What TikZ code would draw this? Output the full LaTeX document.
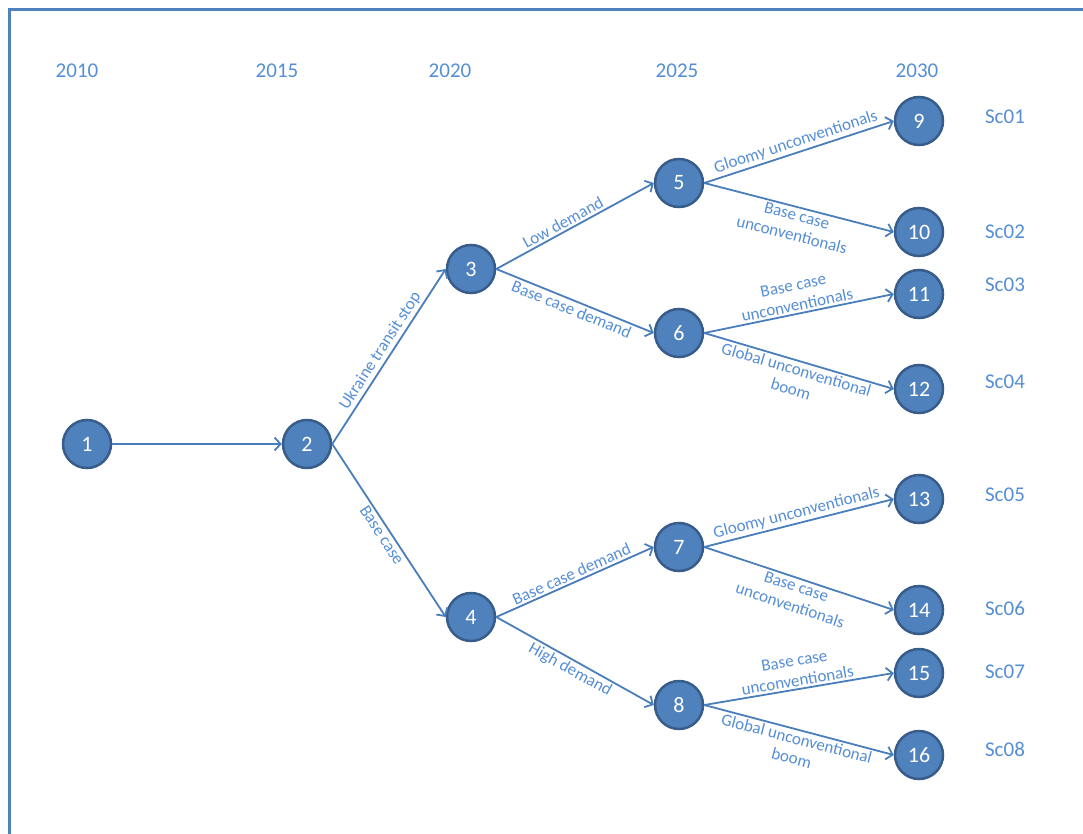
\documentclass[tikz,border=0pt]{standalone}
\usepackage{fontspec}
\setmainfont{Carlito}
\usetikzlibrary{arrows.meta}
\definecolor{mblue}{RGB}{79,129,189}
\definecolor{mdark}{RGB}{56,93,138}
\definecolor{mline}{RGB}{74,126,187}
\definecolor{mtext}{RGB}{85,142,213}

\tikzset{
  event/.style={circle, fill=mblue, draw=mdark, line width=2.5pt, minimum size=48pt,
    inner sep=0pt, text=white, font=\fontsize{22}{24}\selectfont},
  year/.style={text=mtext, font=\fontsize{21}{24}\selectfont},
  branch/.style={draw=mline, line width=1.8pt, -{Straight Barb[length=6pt,width=13pt]}},
  lbl/.style={text=mtext, font=\fontsize{17}{20}\selectfont, sloped, align=center, inner sep=2pt}
}

\begin{document}
\begin{tikzpicture}[x=1pt, y=-1pt]
    \useasboundingbox (0, 0) rectangle (1083, 834);
    \draw [mblue, line width=2.5pt] (9.5, 834) -- (9.5, 9.5) -- (1083, 9.5);

    % years
    \node [year] (y2010) at (77, 71) {2010};
    \node [year] (y2015) at (277, 71) {2015};
    \node [year] (y2020) at (450, 71) {2020};
    \node [year] (y2025) at (677, 71) {2025};
    \node [year] (y2030) at (917, 71) {2030};

    % events
    \node [event] (1) at (87, 444) {1};
    \node [event] (2) at (307, 444) {2};
    \node [event] (3) at (471, 269) {3};
    \node [event] (4) at (471, 617) {4};
    \node [event] (5) at (679, 183) {5};
    \node [event] (6) at (679, 333) {6};
    \node [event] (7) at (679, 547) {7};
    \node [event] (8) at (679, 705) {8};
    \node [event] (9) at (919, 121) {9};
    \node [event] (10) at (919, 232) {10};
    \node [event] (11) at (919, 294) {11};
    \node [event] (12) at (919, 389) {12};
    \node [event] (13) at (919, 499) {13};
    \node [event] (14) at (919, 610) {14};
    \node [event] (15) at (919, 673) {15};
    \node [event] (16) at (919, 755) {16};

    % scenarios
    \node [year] (sc1) at (1005, 117) {Sc01};
    \node [year] (sc2) at (1005, 232) {Sc02};
    \node [year] (sc3) at (1005, 285) {Sc03};
    \node [year] (sc4) at (1005, 382) {Sc04};
    \node [year] (sc5) at (1005, 495) {Sc05};
    \node [year] (sc6) at (1005, 608) {Sc06};
    \node [year] (sc7) at (1005, 672) {Sc07};
    \node [year] (sc8) at (1005, 749) {Sc08};

    \draw [branch] (1.east) -- (2.west);
    \draw [branch] (2.east) -- node [lbl, above] {Ukraine transit stop} (3.west);
    \draw [branch] (2.east) -- node [lbl, below] {Base case} (4.west);

    \draw [branch] (3.east) -- node [lbl, above, pos=0.45] {Low demand} (5.west);
    \draw [branch] (3.east) -- node [lbl, below] {Base case demand} (6.west);
    \draw [branch] (4.east) -- node [lbl, above] {Base case demand} (7.west);
    \draw [branch] (4.east) -- node [lbl, below] {High demand} (8.west);

    \draw [branch] (5.east) -- node [lbl, above] {Gloomy unconventionals} (9.west);
    \draw [branch] (5.east) -- node [lbl, below] {Base case\\unconventionals} (10.west);
    \draw [branch] (6.east) -- node [lbl, above] {Base case\\unconventionals} (11.west);
    \draw [branch] (6.east) -- node [lbl, below] {Global unconventional\\boom} (12.west);
    \draw [branch] (7.east) -- node [lbl, above] {Gloomy unconventionals} (13.west);
    \draw [branch] (7.east) -- node [lbl, below] {Base case\\unconventionals} (14.west);
    \draw [branch] (8.east) -- node [lbl, above] {Base case\\unconventionals} (15.west);
    \draw [branch] (8.east) -- node [lbl, below] {Global unconventional\\boom} (16.west);
  \end{tikzpicture}
\end{document}
